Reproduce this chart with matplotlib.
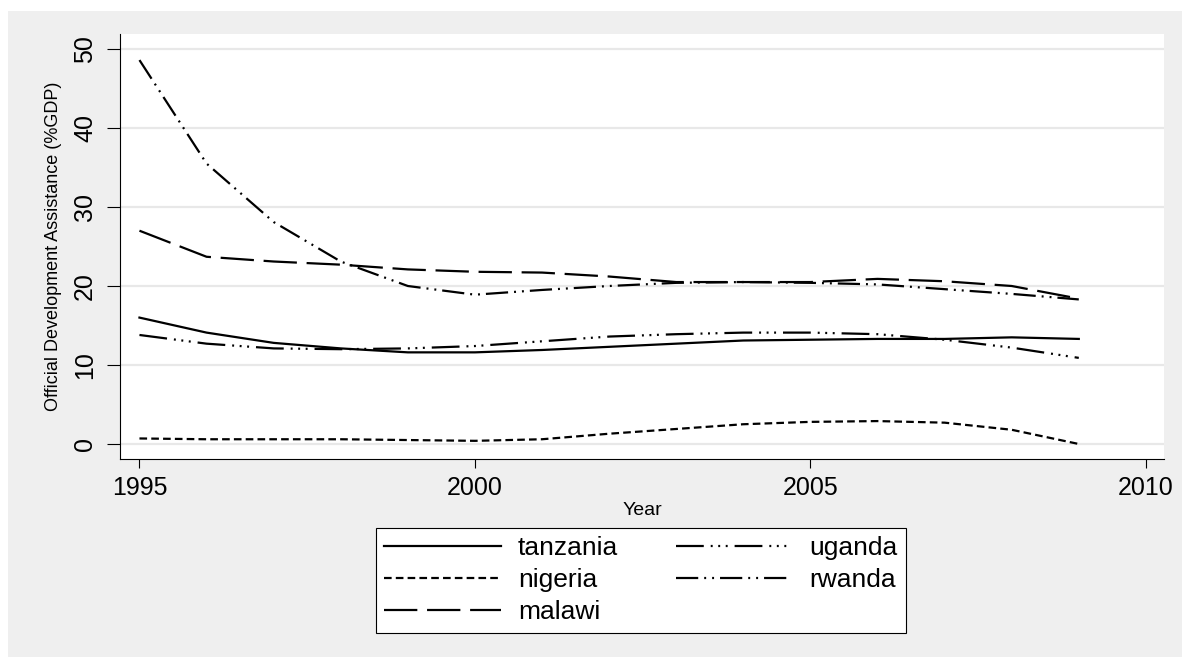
import matplotlib
matplotlib.use("Agg")
import matplotlib.pyplot as plt
from matplotlib.patches import Rectangle
import numpy as np

# ---------------- data ----------------
years = np.arange(1995, 2010)
tanzania = [16.0, 14.1, 12.8, 12.1, 11.6, 11.6, 11.9, 12.3, 12.7, 13.1, 13.2, 13.3, 13.3, 13.5, 13.3]
uganda = [13.8, 12.7, 12.1, 12.0, 12.1, 12.4, 13.0, 13.6, 13.9, 14.1, 14.1, 13.9, 13.2, 12.2, 10.9]
nigeria = [0.7, 0.6, 0.6, 0.6, 0.5, 0.4, 0.6, 1.3, 1.9, 2.5, 2.8, 2.9, 2.7, 1.8, 0.0]
rwanda = [48.6, 35.5, 28.1, 23.1, 20.0, 18.9, 19.5, 20.0, 20.4, 20.5, 20.4, 20.2, 19.6, 19.0, 18.3]
malawi = [27.0, 23.7, 23.1, 22.7, 22.1, 21.8, 21.7, 21.2, 20.5, 20.5, 20.5, 20.9, 20.6, 20.0, 18.4]

y_ticks = [0, 10, 20, 30, 40, 50]
x_ticks = [1995, 2000, 2005, 2010]

# ---------------- style ----------------
plt.rcParams['font.family'] = ['Liberation Sans', 'DejaVu Sans']
plt.rcParams['lines.scale_dashes'] = False

bg = '#EFEFEF'
fig = plt.figure(figsize=(11.82, 6.57), dpi=100, facecolor=bg)
# thin white strips on top and left (gray graph region runs to right/bottom edge)
fig.patches.append(Rectangle((0, 1 - 11 / 657), 1, 11 / 657, transform=fig.transFigure,
                             facecolor='white', edgecolor='none', zorder=-10))
fig.patches.append(Rectangle((0, 0), 8 / 1182, 1, transform=fig.transFigure,
                             facecolor='white', edgecolor='none', zorder=-10))

ax = fig.add_axes([120 / 1182, 1 - 459 / 657, (1164 - 120) / 1182, (459 - 34) / 657])
ax.set_facecolor('white')

styles = {
    'tanzania': '-',
    'nigeria': (0, (5.5, 3.0)),
    'malawi': (0, (24, 7)),
    'uganda': (0, (20, 5, 1.4, 4, 1.4, 4, 1.4, 5)),
    'rwanda': (0, (16, 4.3, 1.4, 4.3, 1.4, 4.3)),
}
series = {'tanzania': tanzania, 'uganda': uganda, 'nigeria': nigeria,
          'rwanda': rwanda, 'malawi': malawi}

lines = {}
for name, vals in series.items():
    ln, = ax.plot(years, vals, color='black', linewidth=1.6, linestyle=styles[name],
                  dash_capstyle='butt', label=name)
    lines[name] = ln

ax.set_xlim(1994.71, 2010.27)
ax.set_ylim(-1.9, 51.9)
ax.set_xticks(x_ticks)
ax.set_yticks(y_ticks)
ax.tick_params(axis='x', length=6.5, width=0.8, pad=6, labelsize=18)
ax.tick_params(axis='y', length=9.5, width=0.8, pad=7, labelsize=18)
for lab in ax.get_yticklabels():
    lab.set_rotation(90)
    lab.set_va('center')

ax.grid(axis='y', color='#E8E8E8', linewidth=1.6)
ax.set_axisbelow(True)
for side in ['top', 'right']:
    ax.spines[side].set_visible(False)
for side in ['left', 'bottom']:
    ax.spines[side].set_linewidth(0.8)

ax.set_ylabel('Official Development Assistance (%GDP)', fontsize=13, labelpad=8)
ax.set_xlabel('Year', fontsize=14, labelpad=1)

order = ['tanzania', 'nigeria', 'malawi', 'uganda', 'rwanda']
leg = fig.legend([lines[n] for n in order], order, ncol=2, loc='upper center',
                 bbox_to_anchor=(641 / 1182, 1 - 528 / 657), borderaxespad=0,
                 fontsize=19, frameon=True, fancybox=False, edgecolor='black',
                 framealpha=1, handlelength=4.4, handletextpad=0.65,
                 columnspacing=2.2, labelspacing=0.3, borderpad=0.32)
leg.get_frame().set_linewidth(0.8)

fig.savefig('out.png', dpi=100, facecolor=fig.get_facecolor())
